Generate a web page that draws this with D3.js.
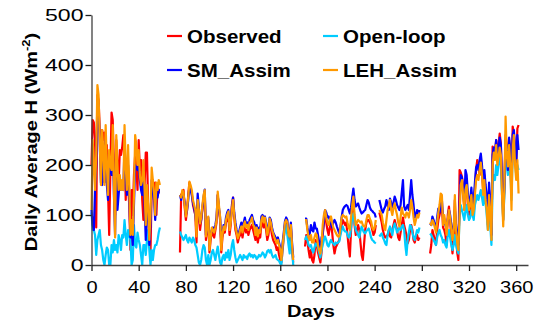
<!DOCTYPE html>
<html><head><meta charset="utf-8">
<script src="https://cdn.jsdelivr.net/npm/d3@7"></script>
<style>body{margin:0;background:#fff}svg{display:block}text{font-family:"Liberation Sans",Arial,sans-serif}</style>
</head><body><svg id="c" width="538" height="325"></svg>
<script>
// Start day of each data segment (gaps between segments = missing days)
const segStarts = [0, 75, 181, 244, 287];
const xTicks = [0, 40, 80, 120, 160, 200, 240, 280, 320, 360];
const yTicks = [0, 100, 200, 300, 400, 500];
const seriesNames = ["Observed", "Open-loop", "SM_Assim", "LEH_Assim"];

const observed = [
 [200,290,285,250,75,340,330,270,240,270,250,265,180,240,150,60,190,305,290,200,100,250,200,160,230,220,235,260,250,130,200,160,120,30,150,100,180,220,200,150,250,190,210,130,90,160,225,225,120,50,25,150,170,140,165,100,160,145,145],
 [25,140,145,150,115,90,110,140,165,150,145,120,110,100,45,120,100,70,90,110,130,140,50,70,90,25,50,70,60,55,70,85,140,110,90,25,55,70,65,85,90,100,60,80,120,135,95,70,60,45,55,60,70,55,70,75,65,70,60,70,75,80,70,60,50,65,45,60,55,80,85,75,85,70,50,60,85,75,60,50,45,40,30,35,20,10,5,30,55,80,90,80,55,50,75,30,5],
 [37,60,50,30,15,30,10,5,20,50,40,25,15,5,25,60,85,100,85,70,60,75,85,65,40,23,35,40,45,50,65,80,90,85,80,85,60,35,17,70,110,130,80,60,70,80,70,45,20,10,40,70,85,90,90,85,80,70,60,65,80],
 [105,95,85,70,60,55,57,60,70,57,55,70,80,90,80,70,55,50,65,80,95,80,70,60,43,50,70,80,70,50,45,55,60,50,55],
 [23,40,70,60,50,40,70,90,100,110,120,75,70,60,40,100,117,90,50,23,60,130,60,25,10,190,185,177,157,110,170,165,120,100,110,145,100,100,150,190,210,200,180,210,190,150,180,150,130,80,150,110,50,237,230,220,250,215,240,263,243,150,90,157,260,240,200,250,215,140,277,265,220,203,273,280]
];
const openLoop = [
 [105,70,70,60,20,50,60,70,40,30,10,0,20,35,30,0,0,40,25,50,30,40,25,60,50,30,60,55,90,60,40,70,60,50,0,10,80,40,35,65,50,40,20,0,40,40,20,50,70,30,0,30,10,30,40,40,50,65,75],
 [67,60,55,50,55,60,50,45,55,50,45,55,50,40,35,20,5,0,10,30,40,35,10,0,20,0,10,25,30,20,10,25,37,20,5,0,15,20,10,25,15,30,10,20,40,50,30,15,5,10,15,20,15,10,20,15,17,12,20,23,17,20,15,20,18,12,15,20,17,20,25,22,15,20,28,30,25,30,20,15,17,20,12,10,8,3,0,37,55,70,80,60,40,23,70,30,0],
 [50,57,50,40,37,40,30,25,35,43,40,35,25,15,30,40,50,57,50,40,37,45,50,45,43,40,45,43,45,47,60,70,77,70,67,67,60,55,57,75,95,103,85,70,65,60,55,68,77,70,65,63,68,70,73,65,55,50,48,45,43],
 [57,60,63,55,50,43,40,60,70,77,70,60,75,83,75,65,70,75,70,77,80,70,40,20,50,65,80,77,65,55,50,60,70,65,75],
 [63,60,55,50,45,40,55,65,70,60,55,45,50,40,35,60,70,55,40,30,40,60,40,30,23,100,120,110,100,90,110,120,100,90,95,110,100,90,120,130,140,130,140,150,135,120,140,125,100,70,110,80,40,160,180,170,200,180,200,220,200,140,90,140,230,200,180,220,190,130,230,240,210,180,200,190]
];
const smAssim = [
 [110,80,70,150,200,330,320,240,165,160,230,165,250,160,130,200,190,180,250,140,60,230,110,140,170,150,155,150,240,180,140,200,140,55,75,40,120,200,195,190,200,170,150,140,190,120,50,130,110,40,80,170,155,130,90,140,135,150,150],
 [140,130,145,140,125,100,110,130,160,150,140,125,115,100,80,143,115,83,90,115,135,151,60,75,95,40,60,70,75,70,80,95,140,115,95,45,65,80,75,95,105,110,75,90,115,135,105,85,70,60,65,75,85,70,85,95,80,85,75,90,95,100,90,85,65,80,65,75,70,97,100,95,97,85,65,75,95,90,75,65,60,55,50,55,45,35,15,45,65,88,95,90,65,60,85,45,15],
 [93,93,75,60,63,80,70,67,85,73,73,60,45,30,55,63,90,110,105,95,97,90,83,75,85,90,85,77,70,63,75,95,110,115,118,120,118,110,103,115,135,153,130,117,120,123,115,108,103,105,108,110,120,130,125,115,110,108,105,103,95],
 [130,120,110,105,112,117,130,120,110,133,125,115,125,137,130,120,115,110,120,145,170,117,110,115,120,110,140,170,140,120,95,100,110,100,110],
 [83,80,97,90,80,73,95,113,105,120,130,95,85,80,70,90,110,100,80,60,75,110,80,60,40,120,180,175,150,120,190,180,143,125,130,155,120,130,165,195,200,190,210,223,200,160,190,160,140,100,165,120,60,220,235,225,250,220,230,255,240,170,110,160,250,230,190,255,230,150,260,270,240,200,260,230]
];
const lehAssim = [
 [110,250,200,150,220,360,340,250,160,270,230,160,280,200,140,230,200,190,280,150,55,260,200,150,180,150,170,150,280,200,150,240,160,60,90,60,140,260,240,200,230,180,160,170,210,150,80,160,120,50,100,195,170,145,100,165,150,170,160],
 [140,135,150,145,120,97,115,135,167,160,150,130,120,110,57,130,110,83,95,120,140,150,57,80,97,30,55,75,70,65,75,90,147,120,97,30,60,77,70,90,100,107,70,85,110,130,100,77,65,53,60,70,77,65,80,87,75,80,70,85,87,95,80,77,60,75,57,70,65,90,97,85,95,80,60,70,93,85,70,63,55,50,43,50,40,30,10,40,60,85,90,85,60,57,80,40,10],
 [90,90,70,55,50,60,45,45,55,63,60,40,30,23,40,80,100,110,95,85,80,90,97,85,75,70,65,60,57,57,75,95,100,98,95,97,85,75,70,95,120,137,100,80,85,90,88,85,87,80,77,77,90,100,100,92,87,75,70,75,90],
 [110,105,100,85,75,70,90,110,120,130,110,100,115,123,110,100,85,77,95,115,103,100,95,105,103,95,110,130,115,95,80,90,100,95,105],
 [85,80,90,85,75,65,85,105,120,143,140,80,100,85,60,90,110,95,70,50,70,140,70,45,30,100,160,170,140,110,150,160,130,110,120,140,100,110,140,170,180,170,190,205,180,140,170,130,110,70,140,100,50,200,225,210,240,200,215,235,220,140,77,157,297,220,197,240,200,110,230,260,200,170,210,143]
];

const seriesData = [observed, openLoop, smAssim, lehAssim];
const colors = ["#FF0000", "#00CCFF", "#0000FF", "#FF9900"];
// draw order: Observed, Open-loop, SM_Assim, LEH_Assim (later on top)

const svg = d3.select("#c");
const L = 91.5, R = 528, T = 15, B = 265;
const x = d3.scaleLinear().domain([0, 370]).range([L, R]);
const y = d3.scaleLinear().domain([0, 500]).range([B, T]);
const SX = 1.18;

const line = d3.line().x(d => x(d[0])).y(d => y(d[1]));
seriesData.forEach((series, si) => {
  series.forEach((seg, k) => {
    const pts = seg.map((v, i) => [segStarts[k] + i, v]);
    svg.append("path").attr("d", line(pts)).attr("fill", "none")
      .attr("stroke", colors[si]).attr("stroke-width", 2.2)
      .attr("stroke-linejoin", "round");
  });
});

// axes
const gy = svg.append("g").attr("transform", `translate(${L},0)`)
  .call(d3.axisLeft(y).tickValues(yTicks).tickSize(6).tickPadding(7).tickSizeOuter(0));
const gx = svg.append("g").attr("transform", `translate(0,${B})`)
  .call(d3.axisBottom(x).tickValues(xTicks).tickSize(6).tickPadding(10).tickSizeOuter(0));
[gx, gy].forEach(g => {
  g.select(".domain").attr("stroke", "#404040").attr("stroke-width", 1.3);
  g.selectAll(".tick line").attr("stroke", "#202020").attr("stroke-width", 1.3);
  g.selectAll("text").attr("font-size", 17).attr("fill", "#000")
    .attr("font-family", '"Liberation Sans",Arial,sans-serif');
});
gy.selectAll("text").attr("transform", `scale(${SX*1.15},1)`).attr("x", -8/(SX*1.15));
gx.selectAll("text").attr("transform", `scale(${SX},1)`);

// axis titles
svg.append("g").attr("transform", `translate(311,317) scale(${SX},1)`)
  .append("text").attr("text-anchor", "middle").attr("font-size", 17)
  .attr("font-weight", "bold").text("Days");
const yt = svg.append("g").attr("transform", `translate(37,142) rotate(-90) scale(${SX},1)`)
  .append("text").attr("text-anchor", "middle").attr("font-size", 17).attr("font-weight", "bold");
yt.append("tspan").text("Daily Average H (Wm");
yt.append("tspan").attr("font-size", 11).attr("dy", -7).text("-2");
yt.append("tspan").attr("dy", 7).text(")");

// legend
const legPos = [[167, 36], [323, 36], [167, 70], [323, 70]];
seriesNames.forEach((nm, i) => {
  const [lx, ly] = legPos[i];
  svg.append("line").attr("x1", lx).attr("x2", lx + 15).attr("y1", ly).attr("y2", ly)
    .attr("stroke", colors[i]).attr("stroke-width", 2.2);
  svg.append("g").attr("transform", `translate(${lx + 20},${ly + 7}) scale(1.14,1)`)
    .append("text").attr("font-size", 18).attr("font-weight", "bold").text(nm);
});
</script></body></html>
